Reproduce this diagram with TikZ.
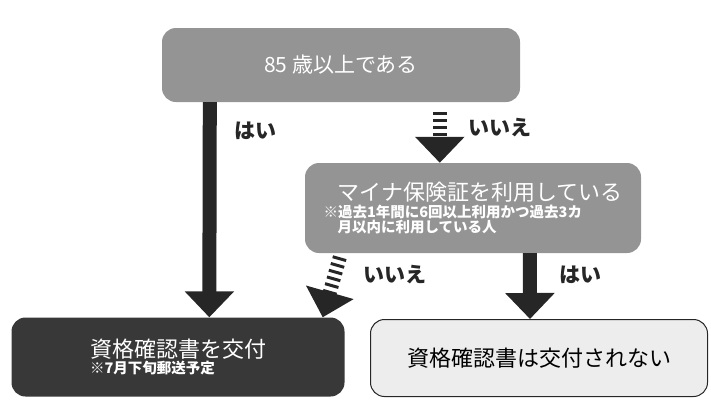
\documentclass[tikz,border=0pt]{standalone}
\usepackage{fontspec}
\setmainfont{Noto Sans CJK JP}
\usetikzlibrary{arrows.meta,calc}
\tikzset{
  box/.style={rounded corners=14pt, minimum height=74pt, inner sep=0pt, align=left},
  yes/.style={line width=14pt, draw=black!85, -{Triangle[width=48pt,length=26pt]}},
  no/.style={line width=14pt, draw=black!85, dash pattern=on 3pt off 4pt, -{Triangle[width=48pt,length=26pt,sep=0pt]}},
  lab/.style={font=\bfseries\fontsize{21}{21}\selectfont, black!85},
  note/.style={font=\bfseries\fontsize{14.5}{18}\selectfont}
}
\begin{document}
\begin{tikzpicture}[x=1pt,y=-1pt]
\useasboundingbox (0,0) rectangle (711,405);
% boxes
\node[box, fill=black!42, text=white, minimum width=358pt, font=\fontsize{21}{21}\selectfont] (age) at (341,65) {85 歳以上である};
\node[box, fill=black!42, text=white, minimum width=336pt, minimum height=90pt] (mynum) at (473,208)
  {\hspace*{14pt}{\fontsize{22}{24}\selectfont マイナ保険証を利用している}\\[1pt]
   {\bfseries\fontsize{14.5}{18}\selectfont ※過去1年間に6回以上利用かつ過去3カ}\\
   {\bfseries\fontsize{14.5}{18}\selectfont \hspace*{14pt}月以内に利用している人}};
\node[box, fill=black!78, text=white, minimum width=333pt, minimum height=79pt] (issue) at (178,357)
  {{\fontsize{22}{24}\selectfont 資格確認書を交付}\\[1pt]
   {\bfseries\fontsize{14.5}{18}\selectfont ※7月下旬郵送予定}};
\node[box, fill=black!7, draw=black!85, line width=1pt, minimum width=337pt, minimum height=77pt,
  font=\fontsize{22}{24}\selectfont] (noissue) at (539,358) {資格確認書は交付されない};
% arrows
\draw[yes] ($(age.south west)+(48,0)$) -- ($(issue.north west)+(198,0)$);
\node[lab] (yes1) at (255,131) {はい};
\draw[no] ($(age.south west)+(278,10)$) -- ($(mynum.north west)+(135,0)$);
\node[lab] (no1) at (500,128) {いいえ};
\draw[no] ($(mynum.south west)+(35,4)$) -- ($(issue.north east)+(-22,0)$);
\node[lab] (no2) at (395,275) {いいえ};
\draw[yes] ($(mynum.south west)+(225,0)$) -- ($(noissue.north west)+(160,0)$);
\node[lab] (yes2) at (580,275) {はい};
\end{tikzpicture}
\end{document}
